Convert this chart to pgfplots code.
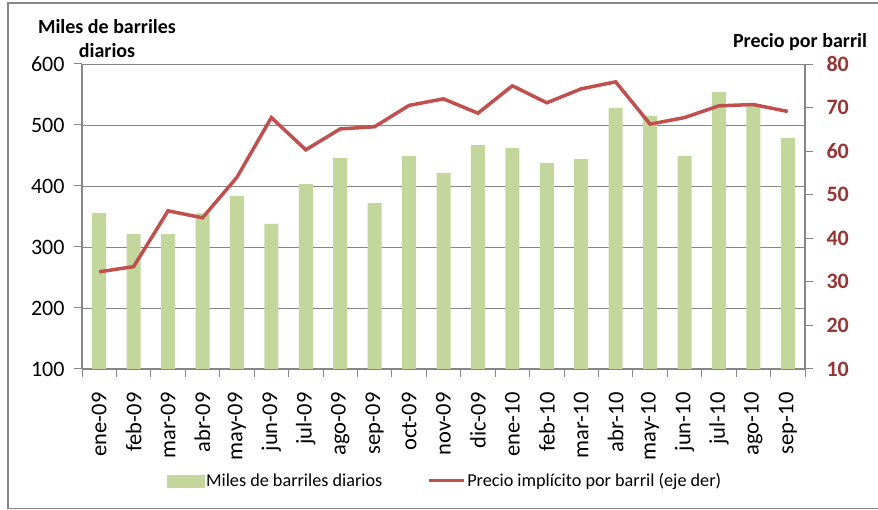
\documentclass[border=0pt]{standalone}
\usepackage{pgfplots}
\pgfplotsset{compat=1.18}
\usepackage{fontspec}
\setmainfont{Carlito}
\definecolor{barGreen}{RGB}{195,214,155}
\definecolor{lineRed}{RGB}{192,80,77}
\definecolor{tickRed}{RGB}{150,54,52}
\definecolor{axGray}{RGB}{134,134,134}
\begin{document}
\begin{tikzpicture}[x=1pt,y=1pt]
\useasboundingbox (0pt,0pt) rectangle (878pt,510pt);
\draw[axGray, line width=1.2pt] (900pt,507pt) -- (8pt,507pt) -- (8pt,1.5pt) -- (900pt,1.5pt);
\begin{axis}[
  at={(82pt,141pt)}, anchor=south west, scale only axis,
  width=723pt, height=305pt,
  xmin=-0.5, xmax=20.5, ymin=100, ymax=600,
  ytick={100,200,...,600},
  axis x line*=bottom, axis y line*=left,
  axis line style={axGray, line width=1.2pt},
  ymajorgrids, grid style={axGray, line width=0.8pt},
  tick align=outside, major tick length=8pt, minor tick length=8pt,
  tick style={axGray, line width=1pt},
  xtick={0,...,20},
  xticklabels={ene-09,feb-09,mar-09,abr-09,may-09,jun-09,jul-09,ago-09,sep-09,oct-09,nov-09,dic-09,ene-10,feb-10,mar-10,abr-10,may-10,jun-10,jul-10,ago-10,sep-10},
  major x tick style={draw=none},
  minor xtick={-0.5,0.5,...,20.5},
  xticklabel shift=12pt,
  yticklabel shift=6pt,
  xticklabel style={rotate=90, anchor=east, font=\fontsize{22.5}{22.5}\selectfont},
  yticklabel style={font=\fontsize{22}{22}\selectfont},
  /pgf/number format/assume math mode=true,
  ybar, bar width=14pt,
]
\addplot[fill=barGreen, draw=none] coordinates {
(0,356) (1,321) (2,321) (3,355) (4,384) (5,338) (6,403) (7,446) (8,372) (9,449)
(10,421) (11,467) (12,462) (13,438) (14,444) (15,528) (16,515) (17,449) (18,554) (19,531) (20,479)};
\end{axis}
\begin{axis}[
  at={(82pt,141pt)}, anchor=south west, scale only axis,
  width=723pt, height=305pt,
  xmin=-0.5, xmax=20.5, ymin=10, ymax=80,
  ytick={10,20,...,80},
  axis x line=none, axis y line*=right,
  axis line style={axGray, line width=1.2pt},
  tick align=outside, major tick length=8pt,
  tick style={axGray, line width=1pt},
  yticklabel shift=10pt,
  yticklabel style={font=\bfseries\fontsize{22}{22}\selectfont, text=tickRed},
  /pgf/number format/assume math mode=true,
  legend columns=2,
  legend style={draw=none, fill=none, at={(0.502,-0.367)}, anchor=center,
    font=\fontsize{18.2}{20}\selectfont,
    /tikz/every even column/.append style={column sep=43pt}},
]
\addlegendimage{legend image code/.code={\fill[barGreen] (0pt,-6pt) rectangle (37pt,6pt);}}
\addlegendentry{Miles de barriles diarios}
\addplot[lineRed, line width=3.5pt, mark=none,
  legend image code/.code={\draw[lineRed, line width=3pt] (0pt,0pt) -- (35pt,0pt);}] coordinates {
(0,32.3) (1,33.5) (2,46.3) (3,44.7) (4,54.0) (5,67.7) (6,60.3) (7,65.1) (8,65.6) (9,70.5)
(10,72.0) (11,68.7) (12,75.0) (13,71.1) (14,74.3) (15,75.9) (16,66.2) (17,67.7) (18,70.4) (19,70.7) (20,69.1)};
\addlegendentry{Precio implícito por barril (eje der)}
\end{axis}
\node[font=\bfseries\fontsize{20}{24}\selectfont, anchor=base] at (107pt,476pt) {Miles de barriles};
\node[font=\bfseries\fontsize{20}{24}\selectfont, anchor=base] at (107pt,452pt) {diarios};
\node[font=\bfseries\fontsize{20}{24}\selectfont, anchor=base] at (800pt,462pt) {Precio por barril};
\end{tikzpicture}
\end{document}
